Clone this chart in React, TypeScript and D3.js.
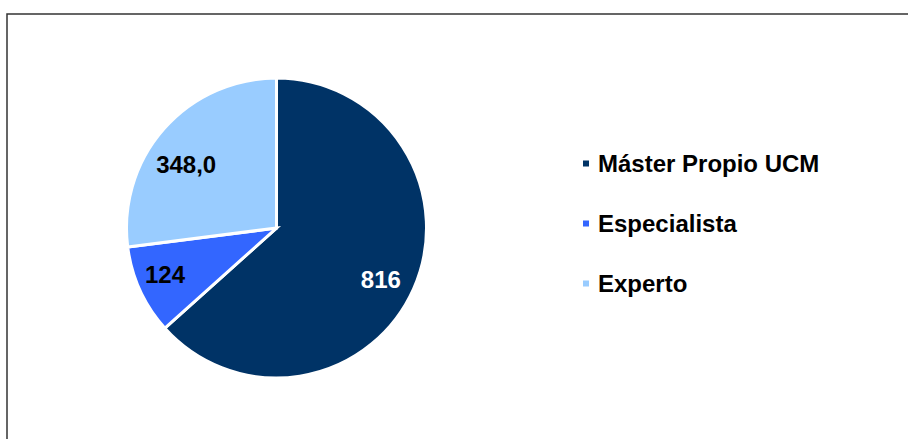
import React from "react";
import * as d3 from "d3";

const categories = ["Máster Propio UCM", "Especialista", "Experto"];
const values = [816, 124, 348];
const valueLabels = ["816", "124", "348,0"];
const colors = ["#003366", "#3366FF", "#99CCFF"];
const labelColors = ["#FFFFFF", "#000000", "#000000"];

const W = 908;
const H = 439;

export default function App() {
  const cx = 276.5;
  const cy = 228;
  const r = 150;
  const pie = d3.pie<number>().sort(null).value((d) => d)(values);
  const arc = d3.arc<d3.PieArcDatum<number>>().innerRadius(0).outerRadius(r);
  const labelArc = d3.arc<d3.PieArcDatum<number>>().innerRadius(r * 0.7).outerRadius(r * 0.7);
  const font = "'Liberation Sans', Arial, sans-serif";
  const legendY = d3.scalePoint<string>().domain(categories).range([172, 292]);
  // small label nudges relative to the slice centroid
  const offsets: [number, number][] = [[8.5, 9], [-16, 2.5], [-11.5, 6]];

  return (
    <svg
      width={W}
      height={H}
      style={{ position: "absolute", left: 0, top: 0, background: "#fff" }}
    >
      <rect x={7} y={14} width={W + 10} height={H + 10} fill="#fff" stroke="#333" strokeWidth={1.5} />
      <g transform={`translate(${cx},${cy})`}>
        {pie.map((p, i) => (
          <path key={i} d={arc(p) || ""} fill={colors[i]} stroke="#fff" strokeWidth={3} strokeLinejoin="miter" />
        ))}
      </g>
      {pie.map((p, i) => {
        const c = labelArc.centroid(p);
        return (
          <text
            key={i}
            x={cx + c[0] + offsets[i][0]}
            y={cy + c[1] + offsets[i][1]}
            textAnchor="middle"
            dominantBaseline="central"
            fontFamily={font}
            fontWeight="bold"
            fontSize={24}
            fill={labelColors[i]}
          >
            {valueLabels[i]}
          </text>
        );
      })}
      {categories.map((c, i) => {
        const y = legendY(c)!;
        return (
          <g key={c}>
            <rect x={583} y={y - 11.5} width={6} height={6} fill={colors[i]} />
            <text x={598} y={y} fontFamily={font} fontWeight="bold" fontSize={24} fill="#000">
              {c}
            </text>
          </g>
        );
      })}
    </svg>
  );
}
